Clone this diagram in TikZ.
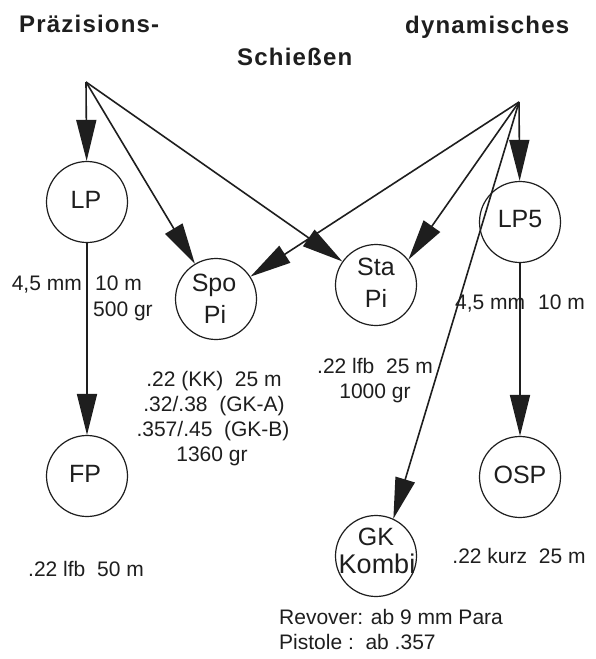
\documentclass[tikz,border=0pt]{standalone}
\usepackage{fontspec}
\setmainfont{Liberation Sans}
\newfontfamily\headfont[LetterSpace=5]{Liberation Sans}
\usetikzlibrary{arrows.meta}
\definecolor{ink}{HTML}{1E1E1E}
\begin{document}
\begin{tikzpicture}[x=1pt,y=-1pt,
  knot/.style={circle,draw=ink,line width=1.2pt,minimum size=81pt,inner sep=0pt},
  ktext/.style={inner sep=0pt,anchor=base,text=ink,font=\fontsize{25}{30}\selectfont},
  conn/.style={draw=ink,line width=1.6pt,-{Triangle[length=41pt,width=20pt,fill=ink]}},
  lbl/.style={inner sep=0pt,anchor=base,text=ink,font=\fontsize{21}{25}\selectfont},
  head/.style={inner sep=0pt,anchor=base west,text=ink,font=\fontsize{24}{28}\selectfont\headfont\bfseries}]
\fill[white] (0,0) rectangle (595,659);
\path[use as bounding box] (0,0) rectangle (595,659);

% headings
\node[head] (h1) at (19,32) {Präzisions-};
\node[head] (h2) at (405,33) {dynamisches};
\node[head] (h3) at (237,65) {Schießen};

% source points
\coordinate (srcL) at (86,82);
\coordinate (srcR) at (519,102);

% circles
\node[knot] (lp)  at (87,202) {};
\node[knot] (fp)  at (87,476) {};
\node[knot] (spo) at (216,299) {};
\node[knot] (sta) at (376,285) {};
\node[knot] (lp5) at (520,222) {};
\node[knot] (osp) at (520,477) {};
\node[knot] (gk)  at (376,556) {};

% circle texts
\node[ktext] (tlp)  at (86,208) {LP};
\node[ktext] (tfp)  at (85,482) {FP};
\node[ktext] (tspo1) at (214,291) {Spo};
\node[ktext] (tspo2) at (215,323) {Pi};
\node[ktext] (tsta1) at (376,275) {Sta};
\node[ktext] (tsta2) at (376,307) {Pi};
\node[ktext] (tlp5) at (520,227) {LP5};
\node[ktext] (tosp) at (520,483) {OSP};
\node[ktext] (tgk1) at (376,545) {GK};
\node[ktext,font=\fontsize{27}{30}\selectfont] (tgk2) at (377,573) {Kombi};

% connectors
\draw[conn] (srcL) -- (lp);
\draw[conn] (srcL) -- (spo);
\draw[conn] (srcL) -- (sta);
\draw[conn] (srcR) -- (lp5);
\draw[conn] (srcR) -- (spo);
\draw[conn] (srcR) -- (sta.38);
\draw[conn] (srcR) -- (gk.65);
\draw[conn] (lp) -- (fp);
\draw[conn] (lp5) -- (osp);

% labels
\node[lbl,anchor=base east] (l1) at (82,290) {4,5 mm};
\node[lbl,anchor=base west] (l2) at (95,290) {10 m};
\node[lbl,anchor=base west] (l3) at (93,316) {500 gr};

\node[lbl] (s1) at (214,386) {.22 (KK)\ \ 25 m};
\node[lbl] (s2) at (214,411) {.32/.38\ \ (GK-A)};
\node[lbl] (s3) at (213,436) {.357/.45\ \ (GK-B)};
\node[lbl] (s4) at (212,461) {1360 gr};

\node[lbl] (t1) at (375,373) {.22 lfb\ \ 25 m};
\node[lbl] (t2) at (375,398) {1000 gr};

\node[lbl,anchor=base west] (r1) at (455,309) {4,5 mm};
\node[lbl,anchor=base west] (r2) at (538,309) {10 m};

\node[lbl] (f1) at (86,576) {.22 lfb\ \ 50 m};
\node[lbl] (o1) at (519,563) {.22 kurz\ \ 25 m};

\node[lbl,anchor=base west] (g1) at (279,624) {Revover: ab 9 mm Para};
\node[lbl,anchor=base west] (g2) at (279,649) {Pistole :\ \ ab .357};
\end{tikzpicture}
\end{document}
